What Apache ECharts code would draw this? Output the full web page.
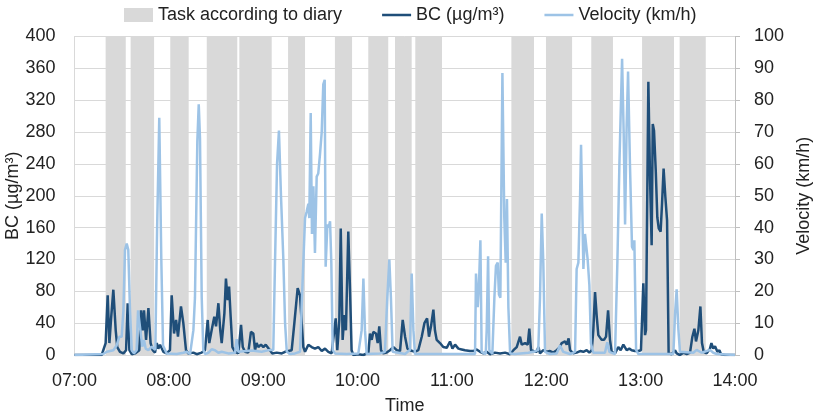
<!DOCTYPE html>
<html>
<head>
<meta charset="utf-8">
<script src="https://cdn.jsdelivr.net/npm/echarts@6/dist/echarts.min.js"></script>
<style>
    html, body { margin: 0; padding: 0; background: #fff; }
    .chart { width: 813px; height: 415px; }
</style>
</head>
<body>
<div class="chart"></div>
<script>
// time in minutes after midnight
var bandStart = [439.8, 455.7, 480.9, 504.1, 524.8, 555.8, 585.6, 606.8, 623.8, 636.7, 697.8, 719.8, 748.6, 780.9, 804.8];
var bandEnd = [452.6, 470.6, 492.6, 523.5, 545.4, 566.6, 596.5, 619.5, 634.4, 653.7, 712.2, 736.4, 762.4, 801.2, 821.4];

var bcTime = [420, 437.3, 438.3, 439.8, 441.1, 442.2, 443.2, 444.7, 446.2, 447.2, 448.9, 451.1, 452.8, 453.8, 454.9, 456.4, 458.5,
    461.2, 462.3, 463.4, 464.2, 465.5, 467.0, 468.4, 469.7, 471.2, 472.3, 473.3, 474.4, 476.5, 478.6, 480.7, 481.8, 483.3,
    484.6, 485.8, 487.7, 489.2, 490.9, 492.4, 495.6, 497.7, 500.9, 503.0, 504.7, 505.7, 507.2, 508.9, 510.0, 511.5, 512.7,
    513.6, 515.3, 516.3, 517.4, 518.3, 519.3, 520.4, 522.1, 524.2, 525.9, 527.0, 528.4, 530.5, 532.2, 533.7, 534.8, 535.8,
    536.9, 538.6, 540.1, 541.6, 542.8, 544.3, 545.8, 548.6, 551.8, 553.9, 556.0, 558.1, 559.8, 560.9, 561.9, 563.4, 564.5,
    565.5, 566.6, 568.7, 570.8, 572.9, 575.0, 577.2, 579.3, 581.4, 583.5, 584.6, 586.1, 587.1, 588.4, 589.3, 590.5, 591.6,
    592.6, 594.1, 595.2, 596.2, 597.3, 600.5, 603.7, 606.9, 607.9, 609.0, 610.0, 611.7, 612.8, 613.8, 614.9, 616.4, 618.5,
    620.6, 622.8, 624.9, 627.0, 628.7, 630.2, 631.7, 633.4, 636.5, 638.6, 640.8, 642.5, 644.2, 645.4, 646.7, 648.2, 649.2,
    650.3, 652.4, 654.5, 656.7, 658.8, 660.3, 662.0, 664.1, 666.2, 668.3, 671.5, 673.6, 674.7, 675.7, 677.9, 680.0, 682.1,
    684.2, 687.4, 690.6, 693.8, 696.9, 699.1, 701.2, 703.3, 704.4, 706.5, 708.2, 709.2, 710.3, 711.8, 713.9, 715.0, 716.0,
    718.1, 720.3, 722.4, 724.5, 726.6, 728.7, 729.8, 730.8, 731.9, 733.0, 734.2, 735.1, 737.2, 739.3, 741.5, 743.6, 745.7,
    747.4, 748.9, 749.9, 751.0, 752.1, 753.1, 754.2, 755.2, 756.7, 758.0, 759.3, 760.5, 761.6, 763.7, 765.8, 767.3, 769.0,
    771.1, 772.8, 774.3, 776.4, 778.5, 780.2, 780.7, 781.7, 782.8, 783.4, 784.9, 786.0, 787.0, 787.7, 788.5, 789.6, 790.6,
    791.5, 792.7, 793.6, 794.6, 795.7, 796.8, 797.8, 799.7, 801.9, 802.9, 805.0, 807.2, 809.3, 811.4, 812.9, 814.2, 815.2,
    816.7, 818.0, 819.0, 820.1, 822.0, 824.1, 825.0, 826.2, 827.3, 828.8, 830.1, 831.1, 833.7, 840];
var bcValue = [0, 0, 2, 15, 75, 15, 44, 82, 31, 10, 4, 2, 6, 65, 6, 1, 2,
    6, 56, 31, 56, 19, 59, 15, 6, 3, 15, 8, 13, 4, 2, 6, 75, 27,
    44, 23, 61, 40, 6, 2, 3, 1, 3, 6, 44, 15, 31, 48, 36, 65, 31,
    15, 52, 96, 69, 86, 48, 10, 4, 2, 38, 10, 4, 3, 29, 27, 6, 15,
    10, 13, 10, 13, 15, 6, 2, 3, 2, 4, 5, 6, 40, 40, 84, 75, 40,
    10, 4, 13, 10, 8, 10, 5, 8, 4, 2, 2, 46, 6, 44, 159, 19, 50,
    31, 155, 82, 6, 0, 1, 0, 3, 27, 19, 29, 27, 15, 36, 6, 2, 3,
    6, 10, 6, 5, 44, 23, 8, 6, 4, 6, 23, 40, 46, 23, 36, 57, 31,
    19, 15, 10, 9, 17, 8, 13, 8, 7, 6, 5, 5, 6, 7, 4, 2, 4,
    1, 3, 2, 3, 1, 6, 10, 23, 13, 15, 13, 33, 6, 5, 4, 10, 2,
    6, 4, 5, 3, 6, 10, 15, 13, 17, 13, 21, 6, 2, 3, 5, 4, 6,
    3, 6, 31, 79, 48, 25, 25, 19, 19, 23, 56, 19, 4, 2, 10, 6, 13,
    6, 8, 6, 5, 5, 6, 4, 90, 25, 31, 343, 219, 138, 290, 282, 232, 173,
    159, 155, 190, 234, 199, 169, 2, 1, 6, 2, 0, 3, 1, 3, 23, 33, 17,
    31, 61, 15, 4, 2, 8, 15, 8, 11, 4, 6, 1, 0, 0];

var velTime = [420, 438.3, 440.5, 444.7, 446.8, 448.5, 450.0, 451.1, 452.1, 453.2, 454.2, 455.3, 456.4, 457.8, 459.5, 460.4,
    461.4, 462.3, 463.1, 464.2, 465.3, 467.0, 469.1, 471.4, 472.5, 473.9, 475.2, 476.3, 478.6, 485.0, 489.2, 491.3, 493.5,
    495.6, 496.6, 498.1, 499.0, 499.8, 500.9, 501.9, 503.0, 505.1, 507.2, 509.3, 511.5, 513.6, 517.8, 522.1, 523.1, 524.2,
    532.7, 539.0, 544.3, 546.4, 547.5, 548.8, 550.0, 551.3, 552.8, 553.9, 555.0, 557.1, 560.2, 563.4, 564.5, 565.5, 566.6,
    567.6, 568.7, 569.3, 570.2, 571.0, 571.9, 572.9, 574.0, 575.0, 576.1, 577.2, 578.2, 579.1, 579.7, 580.8, 581.6, 582.5,
    583.3, 584.2, 585.6, 593.1, 600.5, 602.6, 603.7, 604.7, 605.8, 614.3, 617.4, 618.9, 620.2, 621.2, 622.3, 630.2, 633.3,
    634.4, 635.5, 636.5, 674.7, 675.3, 676.4, 677.2, 678.1, 678.9, 681.5, 682.1, 683.0, 683.8, 685.7, 687.0, 688.0, 689.1,
    689.9, 690.8, 691.2, 692.1, 693.3, 694.2, 695.0, 695.9, 697.0, 700.1, 708.6, 711.8, 714.9, 716.0, 717.1, 718.1, 719.2,
    722.4, 726.6, 728.7, 730.8, 735.1, 738.3, 739.3, 740.4, 741.5, 742.1, 743.6, 744.6, 745.3, 746.3, 747.4, 748.4, 749.9,
    757.3, 758.8, 760.1, 763.7, 765.2, 766.5, 768.2, 769.2, 770.1, 771.1, 772.0, 773.2, 774.5, 775.4, 776.0, 777.1, 778.6,
    800.8, 801.9, 802.9, 804.0, 805.0, 813.5, 815.6, 816.7, 818.8, 824.1, 826.2, 828.4, 840];
var velValue = [0, 0.3, 1, 1.5, 3, 5.7, 5.7, 14, 33, 35, 33, 14, 1.5, 0.5, 1.5, 14,
    14, 6, 2.6, 4.7, 2, 1.5, 2.6, 1.6, 39, 74.5, 30, 3, 0.5, 0.3, 0.7, 1, 0.3,
    7.8, 18, 67, 78.7, 68, 18, 1.6, 0.3, 0.7, 1.8, 1.5, 0.7, 1, 0.5, 0.7, 5, 1,
    1.4, 1, 1.6, 1.6, 29, 60, 70.5, 50, 30, 10, 1, 0.3, 0.5, 1, 16, 29, 43,
    45, 47.5, 43, 76, 38, 53, 32, 56, 57, 63, 70, 85, 86.4, 27.7, 41, 40, 42,
    29, 1.6, 0.5, 0.3, 0.5, 7.8, 24, 7.8, 0.3, 0.5, 1, 18, 30, 18, 1, 0.3, 1.6,
    25.6, 7.8, 0.3, 0.3, 25.6, 15, 22, 36, 1, 0.3, 7.8, 31, 1.6, 0.3, 18, 28, 29,
    19, 18, 40, 88.5, 43, 29, 49, 15, 0.5, 0.3, 0.7, 1, 1.6, 18, 44.4, 29, 1,
    0.3, 0.5, 3, 1, 0.3, 1, 27, 29, 50, 66, 27, 38, 38.6, 30, 22, 3.6, 0.7,
    0.7, 4, 1, 0.3, 29, 60, 93, 70, 41, 72, 89, 60, 34, 33, 36, 1.6, 0.3,
    0.3, 13, 20.6, 8, 1, 0.7, 1.6, 2, 0.7, 1.6, 0.7, 0.3, 0];

(function () {
    var myChart = echarts.init(document.querySelector('.chart'));
    var font = 'Liberation Sans';
    var lineIcon = 'path://M0,0 L30,0 L30,2.6 L0,2.6 Z';

    function zip(a, b) {
        var out = [];
        for (var i = 0; i < a.length; i++) {
            out.push([a[i], b[i]]);
        }
        return out;
    }

    function hhmm(m) {
        var h = Math.floor(m / 60);
        var mm = Math.round(m - h * 60);
        return (h < 10 ? '0' : '') + h + ':' + (mm < 10 ? '0' : '') + mm;
    }

    var option = {
        animation: false,
        textStyle: { fontFamily: font },
        legend: {
            left: 119,
            top: 1,
            itemGap: 40,
            itemWidth: 29,
            itemHeight: 14,
            textStyle: { fontFamily: font, fontSize: 18, color: '#222' },
            data: [
                { name: 'Task according to diary', icon: 'rect' },
                { name: 'BC (µg/m³)', icon: lineIcon },
                { name: 'Velocity (km/h)', icon: lineIcon }
            ]
        },
        grid: {
            left: 74.5,
            right: 78,
            top: 36.5,
            bottom: 60,
            containLabel: false,
            outerBoundsMode: 'none'
        },
        xAxis: {
            type: 'value',
            min: 420,
            max: 840,
            interval: 60,
            name: 'Time',
            nameLocation: 'middle',
            nameGap: 42,
            nameTextStyle: { fontFamily: font, fontSize: 18, color: '#222' },
            axisLine: { show: true, lineStyle: { color: '#d9d9d9' } },
            axisTick: { show: false },
            splitLine: { show: false },
            axisLabel: {
                margin: 17,
                fontFamily: font,
                fontSize: 18,
                color: '#222',
                formatter: hhmm
            }
        },
        yAxis: [
            {
                type: 'value',
                min: 0,
                max: 400,
                interval: 40,
                name: 'BC (µg/m³)',
                nameLocation: 'middle',
                nameGap: 52,
                nameMoveOverlap: false,
                nameTextStyle: { fontFamily: font, fontSize: 18, color: '#222' },
                axisLine: { show: true, lineStyle: { color: '#d9d9d9' } },
                axisTick: { show: false },
                axisLabel: { margin: 19, fontFamily: font, fontSize: 18, color: '#222' },
                splitLine: { lineStyle: { color: '#d9d9d9' } }
            },
            {
                type: 'value',
                min: 0,
                max: 100,
                interval: 10,
                position: 'right',
                name: 'Velocity (km/h)',
                nameLocation: 'middle',
                nameGap: 55,
                nameRotate: 90,
                nameTextStyle: { fontFamily: font, fontSize: 18, color: '#222' },
                axisLine: { show: true, lineStyle: { color: '#bfbfbf' } },
                axisTick: { show: true, length: 5, lineStyle: { color: '#bfbfbf' } },
                axisLabel: { margin: 19, fontFamily: font, fontSize: 18, color: '#222' },
                splitLine: { show: false }
            }
        ],
        series: [
            {
                name: 'Task according to diary',
                type: 'custom',
                itemStyle: { color: '#d9d9d9' },
                encode: { x: [0, 1] },
                data: zip(bandStart, bandEnd),
                renderItem: function (params, api) {
                    var p0 = api.coord([api.value(0), 400]);
                    var p1 = api.coord([api.value(1), 0]);
                    return {
                        type: 'rect',
                        shape: { x: p0[0], y: p0[1], width: p1[0] - p0[0], height: p1[1] - p0[1] },
                        style: { fill: '#d9d9d9' }
                    };
                }
            },
            {
                name: 'BC (µg/m³)',
                type: 'line',
                yAxisIndex: 0,
                symbol: 'none',
                color: '#1f4e79',
                lineStyle: { width: 2.5, color: '#1f4e79' },
                data: zip(bcTime, bcValue)
            },
            {
                name: 'Velocity (km/h)',
                type: 'line',
                yAxisIndex: 1,
                symbol: 'none',
                color: '#9dc3e6',
                lineStyle: { width: 2.5, color: '#9dc3e6' },
                data: zip(velTime, velValue)
            }
        ]
    };
    myChart.setOption(option);
    window.addEventListener('resize', function () {
        myChart.resize();
    });
})();
</script>
</body>
</html>
